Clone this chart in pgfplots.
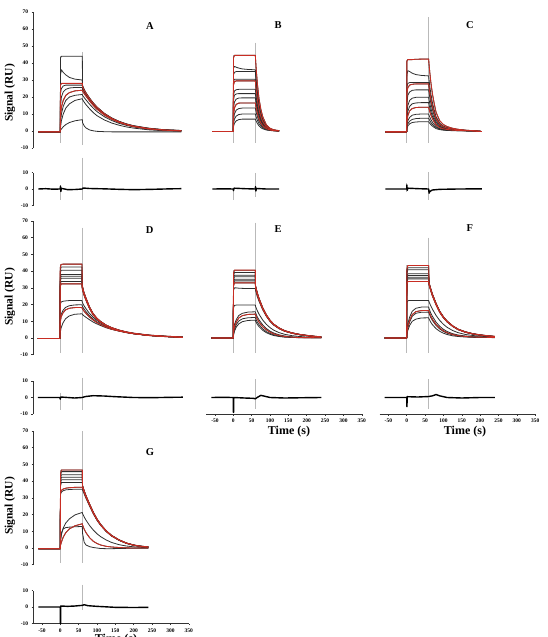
\documentclass[border=0pt]{standalone}
\usepackage{fontspec}
\setmainfont{Liberation Serif}
\usepackage{pgfplots}
\usepackage{pgfplotstable}
\pgfplotsset{compat=1.18}
\definecolor{fitred}{RGB}{200,45,35}
\tikzset{ttl/.style={font=\fontsize{10.5}{12}\selectfont\bfseries}}
\pgfplotsset{
  spr/.style={anchor=origin, x=0.367pt, xmin=-74, xmax=352, clip=false, no markers,
    axis line style={black!80, line width=0.6pt},
    tick label style={font=\fontsize{5.5}{6}\selectfont\bfseries},
    /pgf/number format/assume math mode=true,
    tick align=outside, major tick length=1.5pt, tick style={black!80, line width=0.5pt},
    xtick={-50,0,...,350}},
  mainA/.style={spr, y=1.70pt, ymin=-10, ymax=70, ytick={-10,0,...,70}},
  mainB/.style={spr, y=1.671pt, ymin=-10, ymax=70, ytick={-10,0,...,70}},
  resi/.style={spr, y=1.65pt, ymin=-10, ymax=10, ytick={-10,0,10}},
  leftonly/.style={axis y line*=left, axis x line=none, xtick=\empty},
  bottomonly/.style={axis x line*=bottom, axis y line=none, ytick=\empty},
  cur/.style={black!82, line width=0.8pt, line join=round},
  fit/.style={fitred, line width=0.85pt, line join=round},
  vl/.style={gray!55, line width=0.5pt},
  res/.style={black, line width=1.4pt, line join=round}
}
\pgfplotstableread{
t a1 a2 a3 a4 a5 a6 a7 a8 a9
-60 -0.5 -0.5 -0.5 -0.5 -0.5 -0.5 -0.5 -0.5 -0.5
0 -0.5 -0.5 -0.5 -0.5 -0.5 -0.5 -0.5 -0.5 -0.5
0.5 43 33 27 22 14 8 5 2 0.3
3 44 36 28 25 20 14 10 6 1.2
8 44 34.5 28 26.5 23 18 14.5 10 2.5
15 44 33 28 27 24.5 21 18 13.5 3.8
25 44 31.5 28 27 25.3 22.6 20 16 5
40 44 30.5 28 27 25.6 23.6 21 18 6
60 44 30 28 27 25.6 24 21.5 19 6.7
60.5 27 26.5 26 25.5 24.5 23.5 21 18.5 5
65 24.5 24.3 24 23.6 23 22 19.7 17 3
70 22.5 22.4 22.2 21.9 21.3 20.5 18.3 15.5 1.8
80 19.3 19.2 19 18.8 18.3 17.6 15.7 13 0.6
90 16.5 16.4 16.2 16 15.6 15 13.4 10.8 0.1
100 14.1 14 13.9 13.7 13.3 12.8 11.4 9 -0.2
120 10.4 10.3 10.2 10.1 9.8 9.4 8.4 6.5 -0.4
140 7.7 7.6 7.5 7.4 7.2 6.9 6.2 4.7 -0.5
160 5.7 5.6 5.5 5.4 5.3 5.1 4.5 3.4 -0.5
180 4.2 4.1 4 3.9 3.8 3.7 3.3 2.4 -0.5
200 3.1 3 2.9 2.8 2.7 2.6 2.4 1.7 -0.5
240 1.7 1.6 1.5 1.4 1.3 1.2 1.1 0.7 -0.5
280 0.8 0.8 0.7 0.6 0.5 0.5 0.4 0.2 -0.5
330 0.3 0.3 0.2 0.2 0.1 0 0 0 -0.5
}\tA
\pgfplotstableread{
t b1 b2 b3 b4 b5 b6 b7 b8 b9 b10 b11 b12
-57 -0.3 -0.3 -0.3 -0.3 -0.3 -0.3 -0.3 -0.3 -0.3 -0.3 -0.3 -0.3
0 -0.3 -0.3 -0.3 -0.3 -0.3 -0.3 -0.3 -0.3 -0.3 -0.3 -0.3 -0.3
0.5 43 37 33 29 27 21 18 13 9 6 4 2.5
3 44.5 38 34.5 30.5 29 23.5 21 17 13.5 10 7 4.5
8 44.5 37.5 35 30.5 29.5 24.3 21.8 18.8 15.7 12.3 8.8 6
15 44.5 37 35 30.5 29.5 24.5 22 19.4 16.4 13.2 9.7 6.7
25 44.5 36.5 35 30.5 29.5 24.6 22 19.5 16.5 13.5 10 7
40 44.5 36.2 35 30.5 29.5 24.6 22 19.5 16.5 13.5 10 7
60 44.5 36 35 30.5 29.5 24.6 22 19.5 16.5 13.5 10 7
60.5 42.7 34.6 33.6 29.3 28.3 23.6 21.1 18.7 15.8 13 9.6 6.7
63 34.7 28.1 27.3 23.8 23 19.2 17.2 15.2 12.9 10.5 7.8 5.5
66 27.1 22 21.4 18.6 18 15 13.4 11.9 10.1 8.2 6.1 4.3
70 19.1 15.5 15.1 13.1 12.7 10.6 9.5 8.4 7.1 5.8 4.3 3
75 12.9 10.4 10.2 8.8 8.6 7.1 6.4 5.7 4.8 3.9 2.9 2
80 8.5 6.8 6.7 5.8 5.6 4.7 4.2 3.7 3.1 2.6 1.9 1.3
90 3.6 3 2.9 2.5 2.4 2 1.8 1.6 1.4 1.1 0.8 0.6
100 1.6 1.3 1.3 1.1 1.1 0.9 0.8 0.7 0.6 0.5 0.4 0.3
110 0.7 0.5 0.5 0.5 0.4 0.4 0.3 0.3 0.2 0.2 0.2 0.1
125 0.2 0.1 0.1 0.1 0.1 0.1 0.1 0.1 0 0 0 0
}\tB
\pgfplotstableread{
t c1 c2 c3 c4 c5 c6 c7 c8 c9 c10 c11
-58 -0.5 -0.5 -0.5 -0.5 -0.5 -0.5 -0.5 -0.5 -0.5 -0.5 -0.5
0 -0.5 -0.5 -0.5 -0.5 -0.5 -0.5 -0.5 -0.5 -0.5 -0.5 -0.5
0.5 41 33 26 22 16 10 7 5 3 2 1.3
3 42 35.5 28 25.5 21 15 11.5 9 6 4.2 3
8 42 35 28.5 27 23 18 14.5 11.8 8 5.8 4.2
15 42 34 28.5 27.5 23.9 19.3 16 13.2 9.3 6.8 5
25 42.2 33.2 28.5 27.7 24.2 19.8 16.5 13.8 9.8 7.3 5.3
40 42.3 32.7 28.5 27.7 24.2 19.9 16.7 14 10 7.5 5.5
60 42.3 32.4 28.5 27.7 24.2 19.9 16.7 14 10 7.5 5.5
60.5 40.2 30.8 27.1 26.3 23 18.9 15.9 13.3 9.5 7.1 5.2
63 34.3 26.2 23.1 22.4 19.6 16.1 13.5 11.3 8.1 6.1 4.5
66 28.3 21.7 19.1 18.6 16.2 13.3 11.2 9.4 6.7 5 3.7
70 22 16.8 14.8 14.4 12.6 10.3 8.7 7.3 5.2 3.9 2.9
75 16.1 12.3 10.8 10.5 9.2 7.6 6.3 5.3 3.8 2.9 2.1
80 11 8.4 7.4 7.2 6.3 5.2 4.3 3.6 2.6 2 1.4
90 6 4.6 4.1 4 3.5 2.8 2.4 2 1.4 1.1 0.8
100 3.8 2.9 2.6 2.5 2.2 1.8 1.5 1.3 0.9 0.7 0.5
110 2.6 2 1.8 1.7 1.5 1.2 1 0.9 0.6 0.5 0.3
125 1.6 1.2 1.1 1.1 0.9 0.8 0.6 0.5 0.4 0.3 0.2
140 1 0.8 0.7 0.7 0.6 0.5 0.4 0.3 0.2 0.2 0.1
160 0.5 0.4 0.3 0.3 0.3 0.2 0.2 0.2 0.1 0.1 0.1
180 0.2 0.2 0.1 0.1 0.1 0.1 0.1 0.1 0 0 0
205 -0.3 -0.3 -0.3 -0.3 -0.3 -0.3 -0.3 -0.3 -0.3 -0.3 -0.3
}\tC
\pgfplotstableread{
t d1 d2 d3 d4 d5 d6 d7 d8 d9 d10 d11 d12
-60 -0.3 -0.3 -0.3 -0.3 -0.3 -0.3 -0.3 -0.3 -0.3 -0.3 -0.3 -0.3
0 -0.3 -0.3 -0.3 -0.3 -0.3 -0.3 -0.3 -0.3 -0.3 -0.3 -0.3 -0.3
0.5 42 40 38.5 36 35 33.5 32 30.5 20 11 9 3
3 44 42.5 40.6 38 37 35.8 33.8 32.4 21.5 14 12.5 6
8 44.2 42.5 40.6 38 37 35.8 33.8 32.4 22 16.5 15 9
15 44.2 42.5 40.6 38 37 35.8 33.8 32.4 22.2 18.3 16.8 11.5
25 44.2 42.5 40.6 38 37 35.8 33.8 32.4 22.4 19.3 17.8 13.2
40 44.2 42.5 40.6 38 37 35.8 33.8 32.4 22.5 19.8 18.2 14.2
60 44.2 42.5 40.6 38 37 35.8 33.8 32.4 22.5 19.9 18.3 14.5
60.5 31.6 31.4 31 30.8 30.6 30.4 30 29.5 21.5 19.2 17.7 14.2
65 27.5 27.4 27 26.8 26.7 26.5 26.2 25.9 19.5 17.5 16.2 13.3
70 24.4 24.3 24 23.8 23.7 23.5 23.3 23 17.8 16 14.9 12.5
80 18.8 18.7 18.5 18.4 18.3 18.1 18 17.8 14.8 13.4 12.6 11
90 14.7 14.6 14.5 14.4 14.3 14.2 14.1 13.9 12.5 11.4 10.8 9.6
100 12 11.9 11.8 11.7 11.6 11.5 11.4 11.3 10.6 9.7 9.3 8.5
110 10 10 9.9 9.8 9.7 9.7 9.6 9.5 9.1 8.4 8.1 7.5
125 7.8 7.8 7.7 7.6 7.6 7.5 7.5 7.4 7.2 6.7 6.5 6.2
140 6.3 6.2 6.2 6.1 6.1 6 6 5.9 5.8 5.5 5.3 5.2
160 4.8 4.7 4.7 4.6 4.6 4.6 4.5 4.5 4.5 4.3 4.2 4.2
180 3.7 3.6 3.6 3.5 3.5 3.5 3.4 3.4 3.4 3.3 3.3 3.3
200 2.9 2.8 2.8 2.7 2.7 2.7 2.6 2.6 2.7 2.6 2.6 2.6
240 1.8 1.7 1.7 1.6 1.6 1.6 1.6 1.5 1.6 1.6 1.6 1.6
280 1.2 1.1 1.1 1 1 1 1 0.9 1 1 1 1
335 0.6 0.5 0.5 0.4 0.4 0.4 0.4 0.3 0.4 0.4 0.4 0.4
}\tD
\pgfplotstableread{
t e1 e2 e3 e4 e5 e6 e7 e8 e9 e10 e11 e12 e13
-60 0 0 0 0 0 0 0 0 0 0 0 0 0
0 0 0 0 0 0 0 0 0 0 0 0 0 0
0.5 38.5 37 35.5 34.5 33 32 31 28.5 18 4 3 2 1.5
3 40.6 39.2 37.6 36.6 35.2 34.2 33 30 19.5 8 6.5 5 4
8 40.6 39.2 37.6 36.6 35.2 34.2 33 30 19.7 11 9.5 8 6.5
15 40.6 39.2 37.6 36.6 35.2 34.2 33 29.8 19.7 13.5 12 10.2 8.5
25 40.6 39.2 37.6 36.6 35.2 34.2 33 29.7 19.7 14.8 13.4 11.5 9.8
40 40.6 39.2 37.6 36.6 35.2 34.2 33 29.6 19.7 15.5 14.1 12.1 10.5
60 40.6 39.2 37.6 36.6 35.2 34.2 33 29.6 19.7 15.7 14.3 12.3 10.7
60.5 31.4 31.3 31 30.8 30.6 30.3 30 28.5 19 15.2 13.8 11.8 10.2
65 27.3 27.2 27 26.8 26.6 26.4 26.1 25 16.5 12.8 11.5 9.7 8.3
70 23.8 23.7 23.5 23.3 23.1 22.9 22.7 22 14.3 10.9 9.6 8 6.8
80 18.2 18.1 18 17.9 17.7 17.5 17.3 17 10.8 7.9 6.8 5.5 4.6
90 13.9 13.8 13.7 13.6 13.5 13.3 13.2 13 8.2 5.7 4.9 3.8 3.2
100 10.7 10.6 10.5 10.4 10.3 10.2 10.1 10 6.2 4.1 3.5 2.7 2.2
110 8.3 8.3 8.2 8.1 8 7.9 7.9 7.8 4.7 3 2.5 1.9 1.5
125 6 6 5.9 5.8 5.8 5.7 5.6 5.6 3.2 1.9 1.5 1.1 0.9
140 4.4 4.4 4.3 4.2 4.2 4.1 4.1 4.1 2.2 1.2 0.9 0.7 0.5
160 3.1 3.1 3 3 2.9 2.9 2.8 2.9 1.4 0.7 0.5 0.4 0.3
180 2.2 2.2 2.1 2.1 2 2 2 2 0.9 0.4 0.3 0.2 0.2
200 1.6 1.6 1.5 1.5 1.4 1.4 1.4 1.4 0.6 0.3 0.2 0.2 0.1
220 1.1 1 1 1 0.9 0.9 0.9 0.9 0.4 0.2 0.2 0.1 0.1
240 0.7 0.6 0.6 0.6 0.5 0.5 0.5 0.5 0.3 0.2 0.1 0.1 0.1
}\tE
\pgfplotstableread{
t f1 f2 f3 f4 f5 f6 f7 f8 f9 f10 f11 f12 f13
-60 0 0 0 0 0 0 0 0 0 0 0 0 0
0 0 0 0 0 0 0 0 0 0 0 0 0 0
0.5 41 40 38.5 36.5 35.5 34.5 33.5 32 21 4 3 2.5 2
3 43.4 42 40.8 38.4 37.4 36.4 35.4 33.8 22.3 8.5 7 6 4.5
8 43.4 42 40.8 38.4 37.4 36.4 35.4 33.8 22.5 12.5 10.5 9.5 7.5
15 43.4 42 40.8 38.4 37.4 36.4 35.4 33.8 22.5 16 14 13 10
25 43.4 42 40.8 38.4 37.4 36.4 35.4 33.8 22.5 17.8 15.8 14.8 11.3
40 43.4 42 40.8 38.4 37.4 36.4 35.4 33.8 22.5 18.5 16.4 15.4 12
60 43.4 42 40.8 38.4 37.4 36.4 35.4 33.8 22.5 18.5 16.5 15.5 12.1
60.5 33.4 33.3 33.2 33 32.8 32.6 32.3 32 21.8 17.9 16 15 11.6
65 29.8 29.7 29.7 29.5 29.3 29.1 28.9 28.6 19.5 15.2 13.4 12.5 9.6
70 26.3 26.2 26.2 26 25.8 25.6 25.4 25.2 17.3 13 11.3 10.5 8
80 20.7 20.6 20.6 20.5 20.3 20.2 20 19.8 13.5 9.5 8.1 7.5 5.6
90 16 15.9 15.9 15.8 15.7 15.6 15.4 15.3 10.5 7 5.9 5.4 4
100 12.7 12.6 12.6 12.5 12.4 12.3 12.2 12.1 8.2 5.2 4.3 3.9 2.9
110 10.1 10.1 10 10 9.9 9.8 9.7 9.7 6.4 3.9 3.2 2.9 2.1
125 7.3 7.3 7.2 7.2 7.1 7.1 7 7 4.5 2.6 2.1 1.9 1.3
140 5.3 5.3 5.2 5.2 5.1 5.1 5 5 3.2 1.8 1.4 1.3 0.9
160 3.7 3.7 3.6 3.6 3.5 3.5 3.5 3.4 2.1 1.2 0.9 0.8 0.6
180 2.6 2.6 2.5 2.5 2.4 2.4 2.4 2.4 1.5 0.8 0.6 0.6 0.4
200 1.9 1.9 1.8 1.8 1.7 1.7 1.7 1.7 1.1 0.6 0.5 0.4 0.3
220 1.4 1.3 1.3 1.3 1.2 1.2 1.2 1.2 0.8 0.5 0.4 0.3 0.3
240 1 0.9 0.9 0.9 0.8 0.8 0.8 0.8 0.6 0.4 0.3 0.3 0.2
}\tF
\pgfplotstableread{
t g1 g2 g3 g4 g5 g6 g7 g8 g9 g10 g11
-60 -0.4 -0.4 -0.4 -0.4 -0.4 -0.4 -0.4 -0.4 -0.4 -0.4 -0.4
0 -0.4 -0.4 -0.4 -0.4 -0.4 -0.4 -0.4 -0.4 -0.4 -0.4 -0.4
0.5 44 43 41.5 40 38.5 37 33 32 4 1.5 4
3 46.7 45.7 43.8 42.4 40.8 39.2 34.5 33.5 8 3.5 9
8 46.7 45.7 43.8 42.4 40.8 39.2 35.3 34.3 12 6.5 11.5
15 46.7 45.7 43.8 42.4 40.8 39.2 35.8 34.8 15 9.2 12.2
25 46.7 45.7 43.8 42.4 40.8 39.2 36.1 35 17.5 11.5 12.5
40 46.7 45.7 43.8 42.4 40.8 39.2 36.3 35.2 19.8 13.3 12.7
60 46.7 45.7 43.8 42.4 40.8 39.2 36.4 35.2 21.3 14.5 12.9
60.5 37.4 37.3 37.1 37 36.8 36.5 36 34.8 20.7 13.8 9
65 34.3 34.2 34.1 34 33.8 33.6 33.2 32.4 18.6 11.3 3.5
70 31.3 31.2 31.1 31 30.8 30.6 30.3 29.7 16.7 9.2 1.8
80 26.2 26.1 26 26 25.8 25.6 25.4 25 13.4 6.1 0.8
90 21.4 21.3 21.2 21.2 21 20.9 20.7 20.4 10.7 4 0.3
100 17.4 17.3 17.2 17.2 17 16.9 16.8 16.6 8.5 2.7 0
110 14.1 14.1 14 14 13.9 13.8 13.7 13.5 6.8 1.8 -0.3
125 10.3 10.3 10.2 10.2 10.1 10 10 9.9 4.8 1 -0.4
140 7.5 7.5 7.4 7.4 7.3 7.3 7.2 7.1 3.3 0.6 -0.4
160 4.9 4.9 4.8 4.8 4.7 4.7 4.7 4.6 2 0.3 -0.3
180 3 3 2.9 2.9 2.9 2.8 2.8 2.8 1.2 0.1 -0.2
200 1.8 1.8 1.7 1.7 1.7 1.7 1.6 1.6 0.7 0 -0.2
220 1.1 1.1 1 1 1 1 0.9 0.9 0.4 0 -0.2
240 0.7 0.6 0.6 0.6 0.6 0.6 0.5 0.5 0.2 0 -0.2
}\tG
\begin{document}
\begin{tikzpicture}
\path[use as bounding box] (0,0) rectangle (548pt,-637pt);

% ---------------- Row 1 ----------------
\begin{axis}[mainA, leftonly, at={(60.3pt,-131pt)}]
\addplot[vl] coordinates {(0,44) (0,-7)};
\addplot[vl] coordinates {(60,46.5) (60,-8)};
\pgfplotsinvokeforeach{a1,a2,a3,a4,a5,a6,a7,a8,a9}{\addplot[cur] table[x=t,y=#1]{\tA};}
\addplot[fit] table[x=t,y=a3]{\tA};
\addplot[fit] table[x=t,y=a6]{\tA};
\node[ttl] at (axis cs:244,61.8) {A};
\end{axis}
\begin{axis}[resi, leftonly, at={(60.3pt,-189pt)}]
\addplot[vl] coordinates {(0,2.4) (0,-6.7)};
\addplot[vl] coordinates {(60,19) (60,-6.7)};
\addplot[res] coordinates {(-60,0) (-40,0.2) (-20,-0.1) (0,0) (0.5,1.8) (1.5,-1.5) (3,0.4) (20,-0.4) (40,-0.3) (60,0) (62,0.6) (80,0.3) (120,0.1) (160,-0.2) (200,-0.4) (250,-0.2) (300,0.1) (330,0.2)};
\end{axis}

\begin{axis}[mainA, hide axis, at={(233.3pt,-131pt)}]
\addplot[vl] coordinates {(0,44.5) (0,-7)};
\addplot[vl] coordinates {(60,52) (60,-7)};
\pgfplotsinvokeforeach{b1,b2,b3,b4,b5,b6,b7,b8,b9,b10,b11,b12}{\addplot[cur] table[x=t,y=#1]{\tB};}
\addplot[fit] table[x=t,y=b1]{\tB};
\addplot[fit] table[x=t,y=b5]{\tB};
\addplot[fit] table[x=t,y=b9]{\tB};
\node[ttl] at (axis cs:122,62.4) {B};
\end{axis}
\begin{axis}[resi, hide axis, at={(233.3pt,-189pt)}]
\addplot[vl] coordinates {(0,0.6) (0,-6.7)};
\addplot[vl] coordinates {(60,9.7) (60,-4.8)};
\addplot[res] coordinates {(-57,0) (-20,0.1) (0,0) (0.5,-1) (2,0.5) (30,0.2) (60,0) (60.5,1.5) (61.5,-1.2) (63,0.3) (90,0) (125,0)};
\end{axis}

\begin{axis}[mainA, hide axis, at={(406.7pt,-131pt)}]
\addplot[vl] coordinates {(0,42) (0,-7)};
\addplot[vl] coordinates {(60,67) (60,-7)};
\pgfplotsinvokeforeach{c1,c2,c3,c4,c5,c6,c7,c8,c9,c10,c11}{\addplot[cur] table[x=t,y=#1]{\tC};}
\addplot[fit] table[x=t,y=c1]{\tC};
\addplot[fit] table[x=t,y=c4]{\tC};
\addplot[fit] table[x=t,y=c8]{\tC};
\node[ttl] at (axis cs:172,62.4) {C};
\end{axis}
\begin{axis}[resi, hide axis, at={(406.7pt,-189pt)}]
\addplot[vl] coordinates {(0,3.6) (0,-2)};
\addplot[vl] coordinates {(60,10.3) (60,-6.7)};
\addplot[res] coordinates {(-58,0) (0,0) (0.5,2.5) (1.5,-0.8) (3,0.5) (30,0.2) (60,0) (61,-2.5) (63,-1.5) (70,-0.6) (90,-0.2) (140,0) (205,0.1)};
\end{axis}

% ---------------- Row 2 ----------------
\begin{axis}[mainB, leftonly, at={(60pt,-338pt)}]
\addplot[vl] coordinates {(0,44) (0,-9)};
\addplot[vl] coordinates {(60,66) (60,-9)};
\pgfplotsinvokeforeach{d1,d2,d3,d4,d5,d6,d7,d8,d9,d10,d11,d12}{\addplot[cur] table[x=t,y=#1]{\tD};}
\addplot[fit] table[x=t,y=d8]{\tD};
\addplot[fit] table[x=t,y=d1]{\tD};
\addplot[fit] table[x=t,y=d11]{\tD};
\node[ttl] at (axis cs:244,64.6) {D};
\end{axis}
\begin{axis}[resi, leftonly, at={(60pt,-397.5pt)}]
\addplot[vl] coordinates {(0,3) (0,-7.8)};
\addplot[vl] coordinates {(60,12) (60,-7.7)};
\addplot[res] coordinates {(-60,0) (0,0) (0.5,-1) (2,0.3) (40,-0.3) (60,0) (70,0.6) (90,1.1) (120,0.9) (150,0.5) (200,0) (250,-0.1) (300,0.1) (335,0.2)};
\end{axis}

\begin{axis}[mainB, hide axis, at={(233.3pt,-338pt)}]
\addplot[vl] coordinates {(0,40.6) (0,-9)};
\addplot[vl] coordinates {(60,69) (60,-9)};
\pgfplotsinvokeforeach{e1,e2,e3,e4,e5,e6,e7,e8,e9,e10,e11,e12,e13}{\addplot[cur] table[x=t,y=#1]{\tE};}
\addplot[fit] table[x=t,y=e7]{\tE};
\addplot[fit] table[x=t,y=e1]{\tE};
\addplot[fit] table[x=t,y=e11]{\tE};
\node[ttl] at (axis cs:122,65.2) {E};
\end{axis}
\begin{axis}[resi, bottomonly, at={(233.3pt,-397.5pt)}]
\addplot[vl] coordinates {(60,11) (60,-7)};
\addplot[res] coordinates {(-60,0) (-30,0.1) (0,0) (0.3,-9) (0.8,-9) (1.2,0) (30,-0.3) (55,-0.5) (60,-0.8) (65,0) (75,1.3) (85,0.8) (100,0) (140,-0.3) (200,-0.1) (240,0)};
\end{axis}

\begin{axis}[mainB, hide axis, at={(406.7pt,-338pt)}]
\addplot[vl] coordinates {(0,43.4) (0,-9)};
\addplot[vl] coordinates {(60,60) (60,-9)};
\pgfplotsinvokeforeach{f1,f2,f3,f4,f5,f6,f7,f8,f9,f10,f11,f12,f13}{\addplot[cur] table[x=t,y=#1]{\tF};}
\addplot[fit] table[x=t,y=f8]{\tF};
\addplot[fit] table[x=t,y=f1]{\tF};
\addplot[fit] table[x=t,y=f11]{\tF};
\node[ttl] at (axis cs:172,65.8) {F};
\end{axis}
\begin{axis}[resi, bottomonly, at={(406.7pt,-397.5pt)}]
\addplot[vl] coordinates {(60,11) (60,-7)};
\addplot[res] coordinates {(-60,0) (0,0) (0.3,-5.5) (0.8,-5.5) (1.2,0.5) (30,0.3) (60,0.6) (70,1) (80,1.8) (90,1) (110,0) (150,-0.3) (200,0) (240,0)};
\end{axis}

% ---------------- Row 3 ----------------
\begin{axis}[mainB, leftonly, at={(60.3pt,-548pt)}]
\addplot[vl] coordinates {(0,46.7) (0,-9)};
\addplot[vl] coordinates {(60,70) (60,-9)};
\pgfplotsinvokeforeach{g1,g2,g3,g4,g5,g6,g7,g8,g9,g10,g11}{\addplot[cur] table[x=t,y=#1]{\tG};}
\addplot[fit] table[x=t,y=g7]{\tG};
\addplot[fit] table[x=t,y=g1]{\tG};
\addplot[fit] table[x=t,y=g10]{\tG};
\node[ttl] at (axis cs:244,57.5) {G};
\end{axis}
\begin{axis}[resi, axis x line*=bottom, axis y line*=left, at={(60.3pt,-607pt)}]
\addplot[vl] coordinates {(60,13.5) (60,-2)};
\addplot[res] coordinates {(-60,0) (0,0) (0.3,-10) (0.8,-10) (1.2,0.6) (20,0.4) (40,0.6) (60,1) (65,1.4) (75,0.8) (100,0.4) (150,-0.2) (200,-0.3) (240,-0.2)};
\end{axis}

% ---------------- Labels ----------------
\begin{scope}[every node/.style={font=\fontsize{11.5}{13}\selectfont\bfseries}]
\node[rotate=90] at (10pt,-93pt) {Signal (RU)};
\node[rotate=90] at (10pt,-297pt) {Signal (RU)};
\node[rotate=90] at (10pt,-506pt) {Signal (RU)};
\end{scope}
\begin{scope}[every node/.style={font=\fontsize{12}{14}\selectfont\bfseries}]
\node at (289pt,-432pt) {Time (s)};
\node at (465pt,-432pt) {Time (s)};
\node at (116pt,-640pt) {Time (s)};
\end{scope}
\end{tikzpicture}
\end{document}
